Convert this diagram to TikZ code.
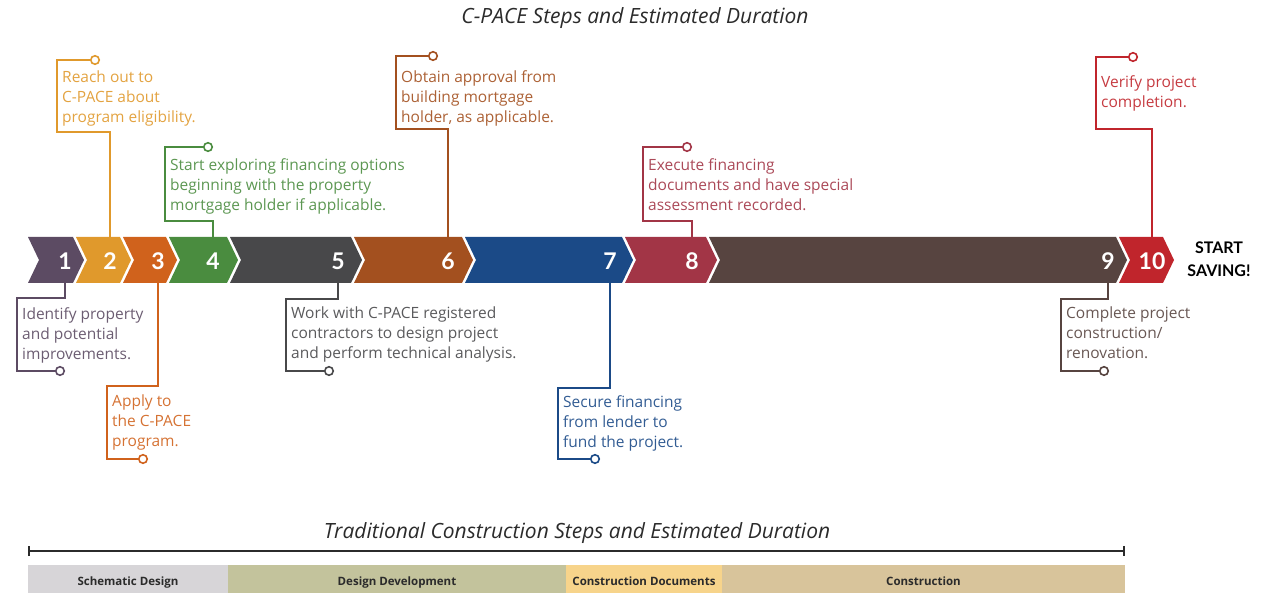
\documentclass[tikz,border=0pt]{standalone}
\usepackage{fontspec}
\setmainfont{Open Sans}
\newfontfamily\cpnumfont{Lato}
\usetikzlibrary{arrows.meta}
\definecolor{cpink}{HTML}{2B2B2B}
\definecolor{cpstep1}{HTML}{5C4B63}
\definecolor{cpstep2}{HTML}{E0992C}
\definecolor{cpstep3}{HTML}{D0621C}
\definecolor{cpstep4}{HTML}{4A8C3F}
\definecolor{cpstep5}{HTML}{48484A}
\definecolor{cpstep6}{HTML}{A3501F}
\definecolor{cpstep7}{HTML}{1B4A87}
\definecolor{cpstep8}{HTML}{A23546}
\definecolor{cpstep9}{HTML}{574440}
\definecolor{cpstep10}{HTML}{C0252C}
\definecolor{cpphase1}{HTML}{D7D5D8}
\definecolor{cpphase2}{HTML}{C3C39C}
\definecolor{cpphase3}{HTML}{F7D48B}
\definecolor{cpphase4}{HTML}{D8C49B}
\tikzset{
  cp num/.style={font=\cpnumfont\fontsize{23}{23}\selectfont\bfseries, text=white, inner sep=0pt},
  cp note/.style={font=\fontsize{15.5}{20}\selectfont, align=left, inner sep=0pt},
  cp lead/.style={line width=2pt},
  cp dot/.style={circle, draw, fill=white, line width=1.6pt, minimum size=8.5pt, inner sep=0pt},
  cp heading/.style={font=\fontsize{21}{24}\selectfont\itshape, text=cpink},
  cp phase/.style={font=\fontsize{11.5}{13}\selectfont\bfseries, text=cpink, anchor=base, inner sep=0pt},
  cp end/.style={font=\cpnumfont\fontsize{16}{23}\selectfont\bfseries, text=black, align=center, inner sep=0pt}
}
\begin{document}
\begin{tikzpicture}[x=1pt, y=-1pt]
  \useasboundingbox (0,0) rectangle (1262,593);
  \node[cp heading] (title) at (635,18) {C-PACE Steps and Estimated Duration};
  \coordinate (top) at (0,237);
  \coordinate (bot) at (0,283);
  % chevron strip
  \foreach \i/\a/\b/\nx in {1/28/84/65, 2/76/131/110, 3/123/177/158, 4/169/238/213,
      5/230/362/338, 6/354/473/448, 7/465/633/610, 8/625/717/692,
      9/709/1127/1108, 10/1119/1174/1152} {
    \fill[cpstep\i] (\a,237) -- (\b-11,237) -- (\b,260) -- (\b-11,283) -- (\a,283) -- (\a+11,260) -- cycle;
    \node[cp num] (n\i) at (\nx,261) {\i};
  }
  \node[cp end] (save) at (1219,259) {START\\SAVING!};
  % callouts above the strip
  \foreach \i/\X/\T/\B/\ox/\ty/\txt in {
      2/57/60/132/95/78/{Reach out to\\C-PACE about\\program eligibility.},
      4/165/147/221/208/165/{Start exploring financing options\\beginning with the property\\mortgage holder if applicable.},
      6/396/56/129/433/77/{Obtain approval from\\building mortgage\\holder, as applicable.},
      8/643/147/221/687/165/{Execute financing\\documents and have special\\assessment recorded.},
      10/1096/57/129/1133/82/{Verify project\\completion.}} {
    \node[cp dot, draw=cpstep\i] (o\i) at (\ox,\T) {};
    \coordinate (b\i) at (\X,\B);
    \draw[cp lead, draw=cpstep\i] (n\i |- top) |- (b\i) |- (o\i);
    \node[cp note, text=cpstep\i!90!white, anchor=north west] (t\i) at (\X+5,\ty-7) {\txt};
  }
  % callouts below the strip
  \foreach \i/\X/\T/\B/\ox/\ty/\txt in {
      1/17/298/371/60/314/{Identify property\\and potential\\improvements.},
      3/107/386/459/143/402/{Apply to\\the C-PACE\\program.},
      5/286/299/371/329/314/{Work with C-PACE registered\\contractors to design project\\and perform technical analysis.},
      7/558/388/459/595/402/{Secure financing\\from lender to\\fund the project.},
      9/1061/299/371/1104/314/{Complete project\\construction/\\renovation.}} {
    \node[cp dot, draw=cpstep\i] (o\i) at (\ox,\B) {};
    \coordinate (b\i) at (\X,\T);
    \draw[cp lead, draw=cpstep\i] (n\i |- bot) |- (b\i) |- (o\i);
    \node[cp note, text=cpstep\i!90!white, anchor=north west] (t\i) at (\X+5,\ty-7) {\txt};
  }
  % traditional schedule
  \node[cp heading] (trad) at (577,533) {Traditional Construction Steps and Estimated Duration};
  \coordinate (spanL) at (28,551);
  \coordinate (spanR) at (1125,551);
  \draw[{Bar[width=10pt]}-{Bar[width=10pt]}, line width=1.6pt, draw=cpink] (spanL) -- (spanR);
  \foreach \i/\l/\r/\txt in {1/28/228/Schematic Design, 2/228/566/Design Development,
      3/566/722/Construction Documents, 4/722/1125/Construction} {
    \fill[cpphase\i] (\l,565) rectangle (\r,593);
    \node[cp phase] (p\i) at ({(\l+\r)/2},585) {\txt};
  }
\end{tikzpicture}
\end{document}
